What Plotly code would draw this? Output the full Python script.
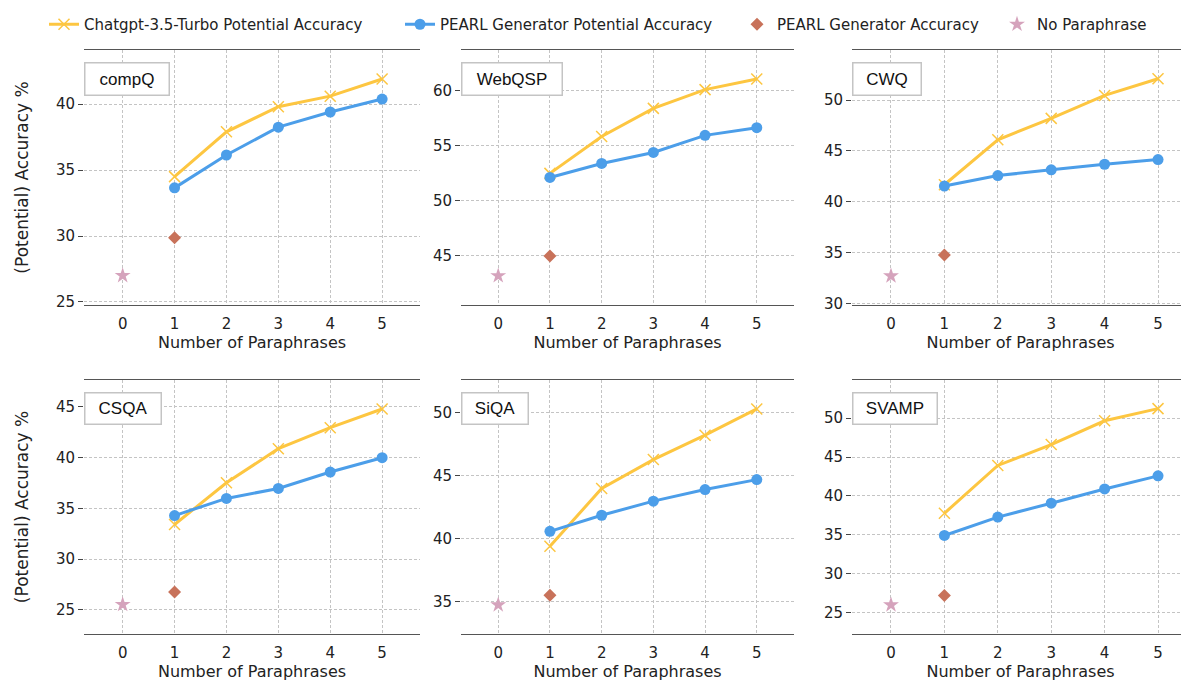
import plotly.graph_objects as go
from plotly.subplots import make_subplots

datasets = ["compQ", "WebQSP", "CWQ", "CSQA", "SiQA", "SVAMP"]
paraphrases = [1, 2, 3, 4, 5]
chatgpt_potential = {
    "compQ": [34.5, 37.9, 39.8, 40.6, 41.9],
    "WebQSP": [52.5, 55.85, 58.4, 60.1, 61.07],
    "CWQ": [41.67, 46.1, 48.2, 50.46, 52.1],
    "CSQA": [33.42, 37.53, 40.89, 42.96, 44.8],
    "SiQA": [39.4, 43.98, 46.28, 48.22, 50.3],
    "SVAMP": [37.77, 43.92, 46.6, 49.66, 51.22],
}
pearl_potential = {
    "compQ": [33.65, 36.14, 38.25, 39.4, 40.38],
    "WebQSP": [52.13, 53.4, 54.4, 55.95, 56.65],
    "CWQ": [41.54, 42.58, 43.14, 43.69, 44.15],
    "CSQA": [34.3, 35.99, 36.97, 38.59, 40.0],
    "SiQA": [40.58, 41.86, 42.98, 43.9, 44.69],
    "SVAMP": [34.92, 37.28, 39.07, 40.9, 42.58],
}
pearl_accuracy = {"compQ": 29.87, "WebQSP": 45.0, "CWQ": 34.77, "CSQA": 26.78, "SiQA": 35.5, "SVAMP": 27.2}
no_paraphrase = {"compQ": 27.0, "WebQSP": 43.2, "CWQ": 32.7, "CSQA": 25.53, "SiQA": 34.74, "SVAMP": 26.0}
y_ranges = {
    "compQ": [24.77, 44.1], "WebQSP": [40.55, 63.7], "CWQ": [29.84, 54.93],
    "CSQA": [22.63, 47.66], "SiQA": [32.43, 52.6], "SVAMP": [22.26, 54.9],
}
x_tick_labels = ["0", "1", "2", "3", "4", "5"]

OFF = 8  # page body margin
W, H = 1189 - OFF, 681 - OFF
YELLOW = "#fdc641"
BLUE = "#4c9ee9"
BROWN = "#c8725a"
PINK = "#d5a3bc"
FONT = "DejaVu Sans"
GRID = "#c4c4c4"

# panel positions in page pixels
col_px = [(84, 420), (461, 794), (852, 1189)]
row_px = [(50, 305), (380, 634)]
x_ranges = [[-0.745, 5.73], [-0.72, 5.72], [-0.73, 5.58]]
box_px = {"compQ": (86, 34), "WebQSP": (102, 34), "CWQ": (70, 34),
          "CSQA": (78, 33), "SiQA": (68, 33), "SVAMP": (86, 33)}

fig = make_subplots(rows=2, cols=3)

for i, ds in enumerate(datasets):
    r, c = i // 3 + 1, i % 3 + 1
    first = i == 0
    fig.add_trace(go.Scatter(
        x=paraphrases, y=chatgpt_potential[ds], mode="lines+markers",
        name="Chatgpt-3.5-Turbo Potential Accuracy",
        line=dict(color=YELLOW, width=3),
        marker=dict(symbol="x-thin", size=11, line=dict(color=YELLOW, width=1.5), color=YELLOW),
        showlegend=first, legend="legend"), row=r, col=c)
    fig.add_trace(go.Scatter(
        x=paraphrases, y=pearl_potential[ds], mode="lines+markers",
        name="PEARL Generator Potential Accuracy",
        line=dict(color=BLUE, width=3),
        marker=dict(symbol="circle", size=11, color=BLUE),
        showlegend=first, legend="legend2"), row=r, col=c)
    fig.add_trace(go.Scatter(
        x=[1], y=[pearl_accuracy[ds]], mode="markers",
        name="PEARL Generator Accuracy",
        marker=dict(symbol="diamond", size=10, color=BROWN),
        showlegend=first, legend="legend3"), row=r, col=c)
    fig.add_trace(go.Scatter(
        x=[0], y=[no_paraphrase[ds]], mode="markers",
        name="No Paraphrase",
        marker=dict(symbol="star", size=12, color=PINK),
        showlegend=first, legend="legend4"), row=r, col=c)

    x0, x1 = [p - OFF for p in col_px[c - 1]]
    y0, y1 = [p - OFF for p in row_px[r - 1]]
    xa = "xaxis" if i == 0 else f"xaxis{i+1}"
    ya = "yaxis" if i == 0 else f"yaxis{i+1}"
    fig.layout[xa].update(
        domain=[x0 / W, min(x1 / W, 1)], range=x_ranges[c - 1], automargin=False,
        tickmode="array", tickvals=[0, 1, 2, 3, 4, 5], ticktext=x_tick_labels,
        showline=True, mirror=True, linecolor="#555555", linewidth=1.3,
        showgrid=True, gridcolor=GRID, griddash="3px,2px", gridwidth=0.8,
        zeroline=False, ticks="outside", ticklen=5, tickcolor="rgba(0,0,0,0)",
        tickfont=dict(family=FONT, size=15, color="#222"),
        title=dict(text="Number of Paraphrases", standoff=3,
                   font=dict(family=FONT, size=16, color="#222")))
    fig.layout[ya].update(
        domain=[1 - y1 / H, 1 - y0 / H], range=y_ranges[ds], automargin=False,
        tick0=0, dtick=5, showline=False,
        showgrid=True, gridcolor=GRID, griddash="3px,2px", gridwidth=0.8,
        zeroline=False, ticks="outside", ticklen=5, tickcolor="#444", tickwidth=1,
        tickfont=dict(family=FONT, size=15, color="#222"),
        title=dict(text="(Potential) Accuracy %" if c == 1 else "", standoff=22,
                   font=dict(family=FONT, size=17, color="#222")))
    bw, bh = box_px[ds]
    xref = "x domain" if i == 0 else f"x{i+1} domain"
    yref = "y domain" if i == 0 else f"y{i+1} domain"
    fig.add_annotation(
        text=ds, xref=xref, yref=yref, x=0, y=1 - 12 / (y1 - y0),
        xanchor="left", yanchor="top", showarrow=False,
        width=bw - 3, height=bh - 3, borderpad=0, align="center", valign="middle",
        bordercolor="#c4c4c4", borderwidth=1.5, bgcolor="white",
        font=dict(family="Liberation Sans", size=17, color="#111"))

legend_names = ["legend", "legend2", "legend3", "legend4"]
legend_x = [36, 392, 729, 989]
leg_layout = {}
for name, lx in zip(legend_names, legend_x):
    leg_layout[name] = dict(
        x=lx / W, y=1, xanchor="left", yanchor="top",
        orientation="h", bgcolor="rgba(0,0,0,0)",
        font=dict(family=FONT, size=15, color="#222"))

fig.update_layout(
    width=W, height=H, margin=dict(l=0, r=0, t=0, b=0),
    paper_bgcolor="white", plot_bgcolor="white",
    **leg_layout)

fig.write_html("out.html")
